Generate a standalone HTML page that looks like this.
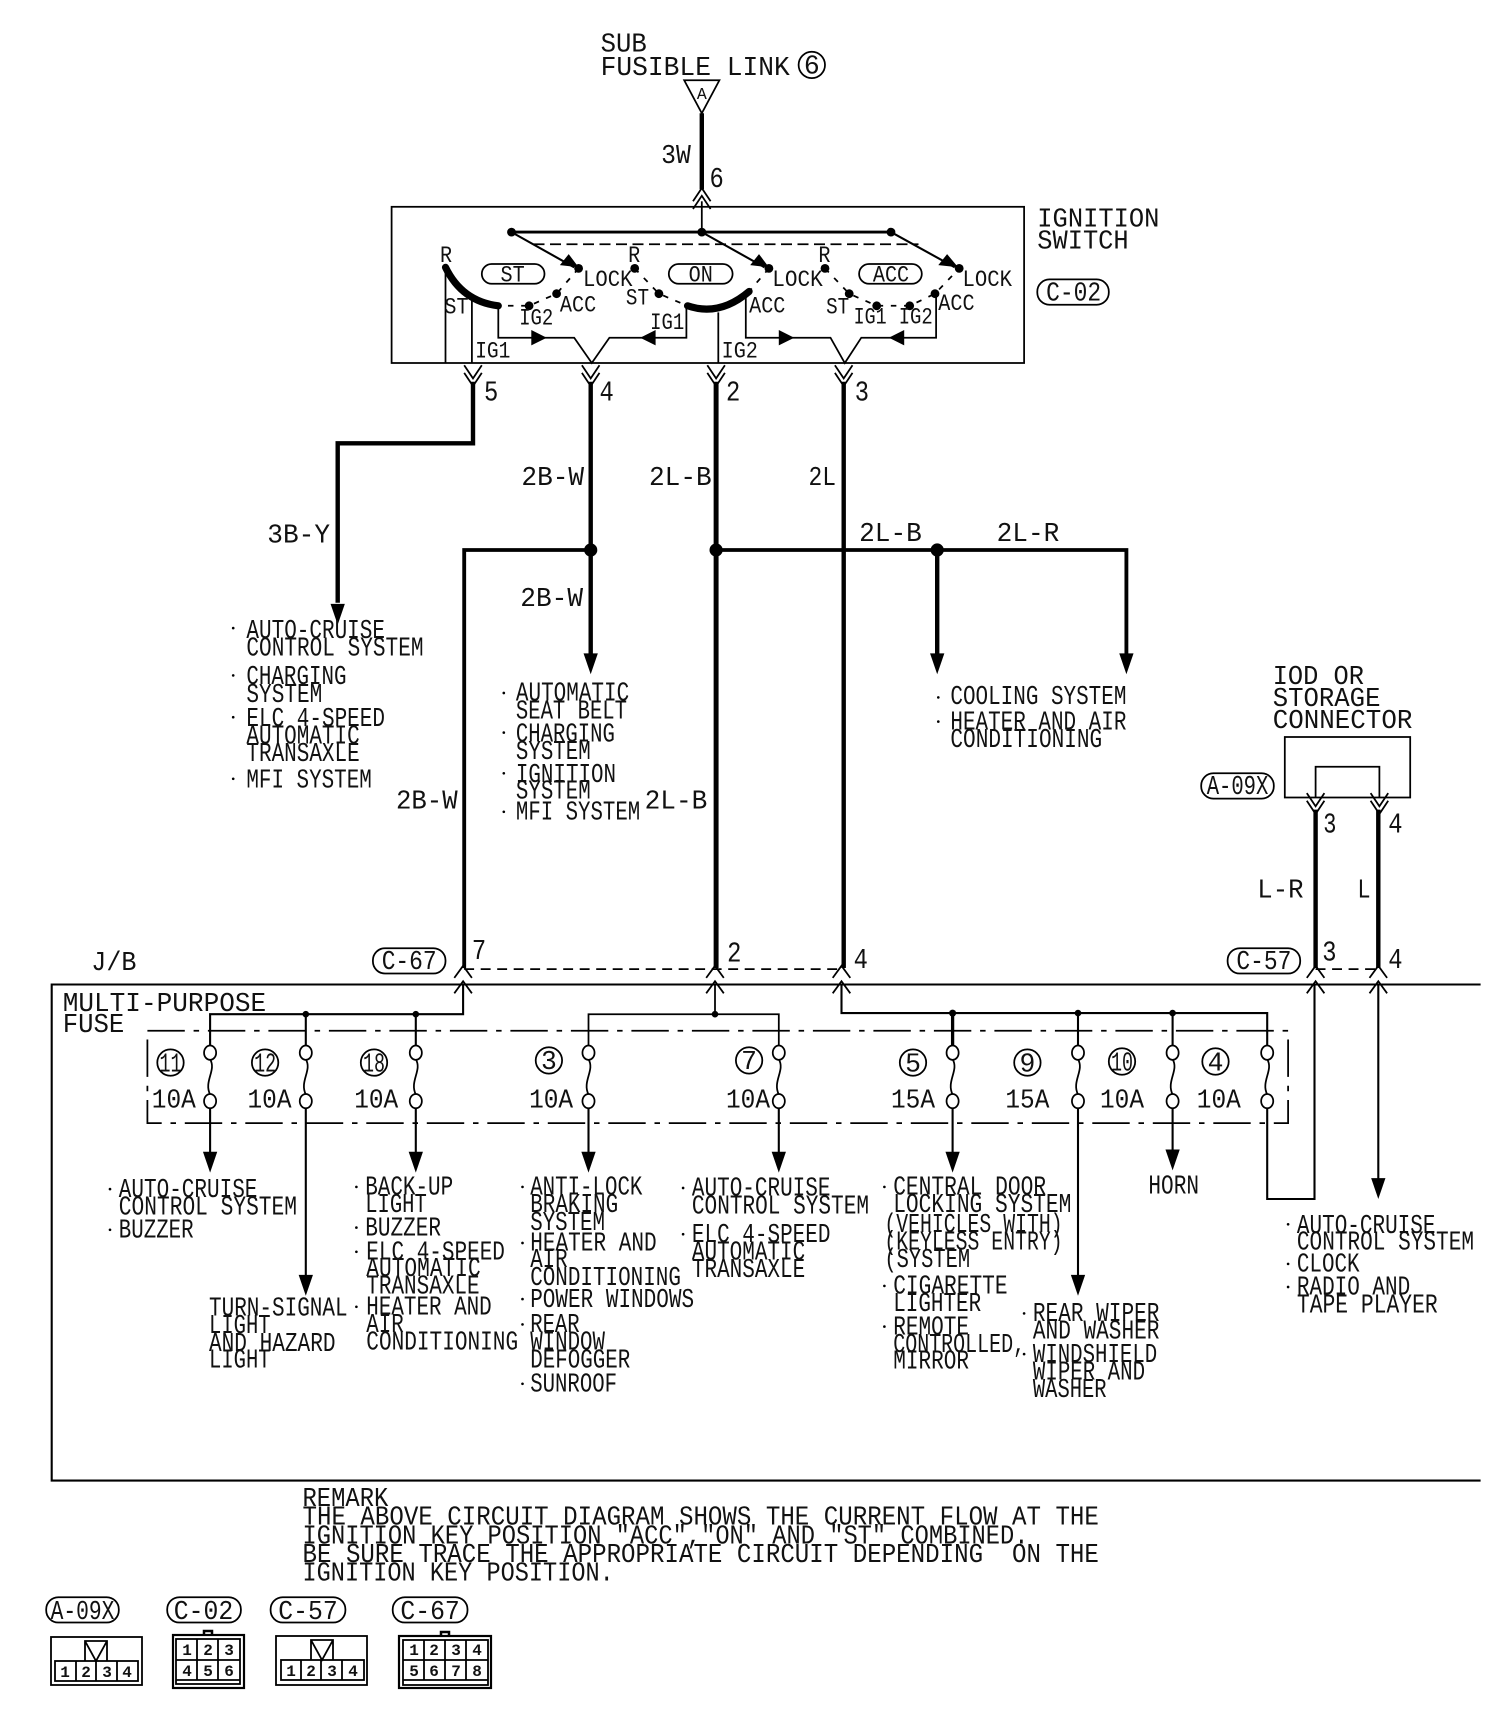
<!DOCTYPE html>
<html><head><meta charset="utf-8"><style>
html,body{margin:0;padding:0;background:#fff}
svg{display:block}
text{font-family:"Liberation Mono","DejaVu Sans Mono",monospace;font-size:24px;fill:#111}
.s{font-size:21px}
.n{font-size:26px}
.d{font-size:24px;text-anchor:middle}
.c{font-size:16px;font-weight:bold;text-anchor:middle}
.w{fill:none;stroke:#000;stroke-width:4}
.t{fill:none;stroke:#000;stroke-width:1.6}
.m{fill:none;stroke:#000;stroke-width:1.9}
</style></head><body>
<svg xmlns="http://www.w3.org/2000/svg" width="1504" height="1724" viewBox="0 0 1504 1724">
<defs>
<path id="u" d="M-8,8 L0,-3 L8,8" fill="none" stroke="#000" stroke-width="1.6"/>
<path id="dd" d="M-8,-6 L0,6 L8,-6 M-8,1 L0,13 L8,1" fill="none" stroke="#000" stroke-width="1.6"/>
<path id="uu" d="M-8,6 L0,-6 L8,6 M-8,13 L0,1 L8,13" fill="none" stroke="#000" stroke-width="1.6"/>
<path id="h" d="M-6.5,-19 L6.5,-19 L0,0 Z" fill="#000"/>
<g id="f"><ellipse cx="0" cy="0" rx="5.5" ry="6.5" fill="#fff" stroke="#000" stroke-width="1.6"/><ellipse cx="0" cy="44" rx="5.5" ry="6.5" fill="#fff" stroke="#000" stroke-width="1.6"/><path d="M0,6 C6,16 -6,26 0,38" fill="none" stroke="#000" stroke-width="1.6"/></g>
</defs>
<g transform="scale(1.1)">
<!-- top -->
<text x="546" y="47" lengthAdjust="spacingAndGlyphs" textLength="42">SUB</text>
<text x="546" y="68" lengthAdjust="spacingAndGlyphs" textLength="172">FUSIBLE LINK</text>
<circle cx="738" cy="59" r="12" class="t"/><text x="738" y="67" class="d">6</text>
<path d="M622,73 H654 L638,103 Z" class="t"/><text x="638" y="90" style="font-size:15px" text-anchor="middle">A</text>
<path d="M638,103 V172" class="w"/>
<text x="601" y="148" lengthAdjust="spacingAndGlyphs" textLength="27">3W</text>
<text x="645" y="170" class="n" lengthAdjust="spacingAndGlyphs" textLength="13">6</text>
<use href="#uu" x="638" y="177"/>
<!-- ignition switch -->
<rect x="356" y="188" width="575" height="142" class="t"/>
<text x="943" y="206" lengthAdjust="spacingAndGlyphs" textLength="111">IGNITION</text>
<text x="943" y="226" lengthAdjust="spacingAndGlyphs" textLength="83">SWITCH</text>
<rect x="943" y="254" width="65" height="23" rx="11" class="t"/><text x="976" y="273" lengthAdjust="spacingAndGlyphs" textLength="50" text-anchor="middle">C-02</text>
<path d="M638,183 V211" class="t"/>
<path d="M465,211 H810" class="m" style="stroke-width:2.6"/>
<circle cx="465" cy="211" r="4"/><circle cx="638" cy="211" r="4"/><circle cx="810" cy="211" r="4"/>
<path d="M485,222 H835" class="t" stroke-dasharray="10 5"/>
<path d="M465,211 L522,243 M638,211 L695,243 M810,211 L868,243" class="m"/>
<path d="M517,231 L509,241 L526,243 Z M690,231 L682,241 L699,243 Z M861,231 L853,241 L871,243 Z"/>
<circle cx="526" cy="244" r="4"/><circle cx="506" cy="267" r="4"/><circle cx="481" cy="278" r="4"/>
<circle cx="577" cy="244" r="4"/><circle cx="599" cy="267" r="4"/>
<circle cx="699" cy="244" r="4"/>
<circle cx="750" cy="244" r="4"/><circle cx="772" cy="267" r="4"/><circle cx="797" cy="278" r="4"/><circle cx="827" cy="278" r="4"/><circle cx="850" cy="267" r="4"/><circle cx="872" cy="244" r="4"/>
<path d="M526,244 L506,267 L481,278 L454,278 M577,244 L599,267 L625,278 M699,244 L681,265 M750,244 L772,267 L797,278 L827,278 L850,267 L872,244" class="t" stroke-dasharray="5 7"/>
<path d="M405,243 Q420,274 453,278" fill="none" stroke="#000" stroke-width="6.5" stroke-linecap="round"/>
<path d="M625,278 Q654,288 681,265" fill="none" stroke="#000" stroke-width="6.5" stroke-linecap="round"/>
<path d="M405,243 V330 M429,270 V330 M653,284 V330" class="t"/>
<path d="M453,278 V307 H522 L538,330 L554,307 H624 V280" class="t"/>
<path d="M678,268 V307 H755 L768,330 L783,307 H851 V268" class="t"/>
<path d="M483,300 L497,307 L483,314 Z M596,300 L582,307 L596,314 Z M708,300 L722,307 L708,314 Z M822,300 L808,307 L822,314 Z"/>
<rect x="438" y="240" width="57" height="18" rx="9" class="t"/><text x="466" y="256" class="s" text-anchor="middle" lengthAdjust="spacingAndGlyphs" textLength="22">ST</text>
<rect x="608" y="240" width="58" height="18" rx="9" class="t"/><text x="637" y="256" class="s" text-anchor="middle" lengthAdjust="spacingAndGlyphs" textLength="22">ON</text>
<rect x="781" y="240" width="57" height="18" rx="9" class="t"/><text x="810" y="256" class="s" text-anchor="middle" lengthAdjust="spacingAndGlyphs" textLength="33">ACC</text>
<text x="400" y="238" class="s" lengthAdjust="spacingAndGlyphs" textLength="11">R</text>
<text x="571" y="238" class="s" lengthAdjust="spacingAndGlyphs" textLength="11">R</text>
<text x="744" y="238" class="s" lengthAdjust="spacingAndGlyphs" textLength="11">R</text>
<text x="530" y="260" class="s" lengthAdjust="spacingAndGlyphs" textLength="45">LOCK</text>
<text x="702" y="260" class="s" lengthAdjust="spacingAndGlyphs" textLength="46">LOCK</text>
<text x="875" y="260" class="s" lengthAdjust="spacingAndGlyphs" textLength="45">LOCK</text>
<text x="509" y="283" class="s" lengthAdjust="spacingAndGlyphs" textLength="33">ACC</text>
<text x="681" y="284" class="s" lengthAdjust="spacingAndGlyphs" textLength="33">ACC</text>
<text x="853" y="282" class="s" lengthAdjust="spacingAndGlyphs" textLength="33">ACC</text>
<text x="404" y="285" class="s" lengthAdjust="spacingAndGlyphs" textLength="22">ST</text>
<text x="569" y="277" class="s" lengthAdjust="spacingAndGlyphs" textLength="21">ST</text>
<text x="751" y="285" class="s" lengthAdjust="spacingAndGlyphs" textLength="21">ST</text>
<text x="472" y="295" class="s" lengthAdjust="spacingAndGlyphs" textLength="31">IG2</text>
<text x="591" y="299" class="s" lengthAdjust="spacingAndGlyphs" textLength="31">IG1</text>
<text x="776" y="294" class="s" lengthAdjust="spacingAndGlyphs" textLength="30">IG1</text>
<text x="817" y="294" class="s" lengthAdjust="spacingAndGlyphs" textLength="31">IG2</text>
<text x="432" y="325" class="s" lengthAdjust="spacingAndGlyphs" textLength="32">IG1</text>
<text x="656" y="325" class="s" lengthAdjust="spacingAndGlyphs" textLength="33">IG2</text>
<!-- pins -->
<use href="#dd" x="430" y="338"/><use href="#dd" x="537" y="338"/><use href="#dd" x="651" y="338"/><use href="#dd" x="767" y="338"/>
<text x="440" y="364" class="n" lengthAdjust="spacingAndGlyphs" textLength="13">5</text>
<text x="545" y="364" class="n" lengthAdjust="spacingAndGlyphs" textLength="13">4</text>
<text x="660" y="364" class="n" lengthAdjust="spacingAndGlyphs" textLength="13">2</text>
<text x="777" y="364" class="n" lengthAdjust="spacingAndGlyphs" textLength="13">3</text>
<!-- main wires -->
<path d="M430,347 V403 H307 V548" class="w"/><use href="#h" x="307" y="568"/>
<path d="M537,347 V595" class="w"/><use href="#h" x="537" y="613"/>
<path d="M651,347 V880" class="w" style="stroke-width:4.5"/>
<path d="M767,347 V880" class="w"/>
<path d="M422,880 V500 H537" class="w" style="stroke-width:3.5"/>
<path d="M651,500 H1024 V595" class="w" style="stroke-width:3.5"/><use href="#h" x="1024" y="613"/>
<path d="M852,500 V595" class="w"/><use href="#h" x="852" y="613"/>
<circle cx="537" cy="500" r="6"/><circle cx="651" cy="500" r="6"/><circle cx="852" cy="500" r="6"/>
<text x="243" y="493" lengthAdjust="spacingAndGlyphs" textLength="57">3B-Y</text>
<text x="474" y="441" lengthAdjust="spacingAndGlyphs" textLength="57">2B-W</text>
<text x="473" y="551" lengthAdjust="spacingAndGlyphs" textLength="57">2B-W</text>
<text x="360" y="735" lengthAdjust="spacingAndGlyphs" textLength="56">2B-W</text>
<text x="590" y="441" lengthAdjust="spacingAndGlyphs" textLength="57">2L-B</text>
<text x="586" y="735" lengthAdjust="spacingAndGlyphs" textLength="57">2L-B</text>
<text x="735" y="441" lengthAdjust="spacingAndGlyphs" textLength="25">2L</text>
<text x="781" y="492" lengthAdjust="spacingAndGlyphs" textLength="57">2L-B</text>
<text x="906" y="492" lengthAdjust="spacingAndGlyphs" textLength="57">2L-R</text>
<!-- upper lists -->
<circle cx="212" cy="571" r="1.2"/><circle cx="212" cy="614" r="1.2"/><circle cx="212" cy="652" r="1.2"/><circle cx="212" cy="708" r="1.2"/>
<text x="224" y="580" lengthAdjust="spacingAndGlyphs" textLength="126">AUTO-CRUISE</text>
<text x="224" y="596" lengthAdjust="spacingAndGlyphs" textLength="161">CONTROL SYSTEM</text>
<text x="224" y="622" lengthAdjust="spacingAndGlyphs" textLength="91">CHARGING</text>
<text x="224" y="638" lengthAdjust="spacingAndGlyphs" textLength="69">SYSTEM</text>
<text x="224" y="660" lengthAdjust="spacingAndGlyphs" textLength="126">ELC 4-SPEED</text>
<text x="224" y="676" lengthAdjust="spacingAndGlyphs" textLength="103">AUTOMATIC</text>
<text x="224" y="692" lengthAdjust="spacingAndGlyphs" textLength="103">TRANSAXLE</text>
<text x="224" y="716" lengthAdjust="spacingAndGlyphs" textLength="114">MFI SYSTEM</text>
<circle cx="458" cy="630" r="1.2"/><circle cx="458" cy="666" r="1.2"/><circle cx="458" cy="703" r="1.2"/><circle cx="458" cy="738" r="1.2"/>
<text x="469" y="637" lengthAdjust="spacingAndGlyphs" textLength="103">AUTOMATIC</text>
<text x="469" y="653" lengthAdjust="spacingAndGlyphs" textLength="101">SEAT BELT</text>
<text x="469" y="674" lengthAdjust="spacingAndGlyphs" textLength="90">CHARGING</text>
<text x="469" y="690" lengthAdjust="spacingAndGlyphs" textLength="68">SYSTEM</text>
<text x="469" y="711" lengthAdjust="spacingAndGlyphs" textLength="91">IGNITION</text>
<text x="469" y="726" lengthAdjust="spacingAndGlyphs" textLength="68">SYSTEM</text>
<text x="469" y="745" lengthAdjust="spacingAndGlyphs" textLength="113">MFI SYSTEM</text>
<circle cx="853" cy="634" r="1.2"/><circle cx="853" cy="656" r="1.2"/>
<text x="864" y="640" lengthAdjust="spacingAndGlyphs" textLength="160">COOLING SYSTEM</text>
<text x="864" y="663" lengthAdjust="spacingAndGlyphs" textLength="160">HEATER AND AIR</text>
<text x="864" y="679" lengthAdjust="spacingAndGlyphs" textLength="138">CONDITIONING</text>
<!-- IOD -->
<text x="1157" y="622" lengthAdjust="spacingAndGlyphs" textLength="83">IOD OR</text>
<text x="1157" y="642" lengthAdjust="spacingAndGlyphs" textLength="98">STORAGE</text>
<text x="1157" y="662" lengthAdjust="spacingAndGlyphs" textLength="127">CONNECTOR</text>
<rect x="1168" y="670" width="114" height="55" class="t"/>
<path d="M1196,725 V697 H1254 V725" class="t"/>
<rect x="1092" y="703" width="66" height="23" rx="11" class="t"/><text x="1125" y="722" text-anchor="middle" lengthAdjust="spacingAndGlyphs" textLength="56">A-09X</text>
<use href="#dd" x="1196" y="727"/><use href="#dd" x="1254" y="727"/>
<path d="M1196,736 V880 M1253,736 V880" class="w"/>
<text x="1203" y="757" class="n" lengthAdjust="spacingAndGlyphs" textLength="12">3</text>
<text x="1262" y="757" class="n" lengthAdjust="spacingAndGlyphs" textLength="13">4</text>
<text x="1143" y="816" lengthAdjust="spacingAndGlyphs" textLength="42">L-R</text>
<text x="1234" y="816" lengthAdjust="spacingAndGlyphs" textLength="12">L</text>
<!-- J/B -->
<text x="83" y="882" lengthAdjust="spacingAndGlyphs" textLength="41">J/B</text>
<rect x="339" y="862" width="66" height="23" rx="11" class="t"/><text x="372" y="881" text-anchor="middle" lengthAdjust="spacingAndGlyphs" textLength="50">C-67</text>
<rect x="1116" y="862" width="66" height="23" rx="11" class="t"/><text x="1149" y="881" text-anchor="middle" lengthAdjust="spacingAndGlyphs" textLength="50">C-57</text>
<text x="429" y="872" class="n" lengthAdjust="spacingAndGlyphs" textLength="13">7</text>
<text x="661" y="874" class="n" lengthAdjust="spacingAndGlyphs" textLength="13">2</text>
<text x="776" y="880" class="n" lengthAdjust="spacingAndGlyphs" textLength="13">4</text>
<text x="1202" y="873" class="n" lengthAdjust="spacingAndGlyphs" textLength="13">3</text>
<text x="1262" y="880" class="n" lengthAdjust="spacingAndGlyphs" textLength="13">4</text>
<path d="M422,881 H765 M1196,881 H1253" class="t" stroke-dasharray="9 6"/>
<path d="M1346,895 H47 V1346 H1346" class="m"/>
<g><use href="#u" x="421" y="881"/><use href="#u" x="421" y="895"/><use href="#u" x="650" y="881"/><use href="#u" x="650" y="895"/><use href="#u" x="765" y="881"/><use href="#u" x="765" y="895"/><use href="#u" x="1196" y="881"/><use href="#u" x="1196" y="895"/><use href="#u" x="1253" y="881"/><use href="#u" x="1253" y="895"/></g>
<text x="57" y="919" lengthAdjust="spacingAndGlyphs" textLength="185">MULTI-PURPOSE</text>
<text x="57" y="938" lengthAdjust="spacingAndGlyphs" textLength="56">FUSE</text>
<rect x="134" y="937" width="1037" height="84" class="t" stroke-dasharray="34 8 5 8"/>
<!-- buses -->
<path d="M421,895 V922 H191 V951 M278,922 V951 M378,922 V951" class="m"/>
<circle cx="278" cy="922" r="3"/><circle cx="378" cy="922" r="3"/>
<path d="M650,895 V922 M535,951 V922 H708 V951" class="t"/><circle cx="650" cy="922" r="3"/>
<path d="M765,895 V921 H1152 V951 M980,921 V951 M1066,921 V951" class="m"/>
<path d="M866,921 V951" class="w" style="stroke-width:3"/>
<circle cx="866" cy="921" r="3.2"/><circle cx="980" cy="921" r="3"/><circle cx="1066" cy="921" r="3"/>
<use href="#f" x="191" y="957"/><use href="#f" x="278" y="957"/><use href="#f" x="378" y="957"/><use href="#f" x="535" y="957"/><use href="#f" x="708" y="957"/><use href="#f" x="866" y="957"/><use href="#f" x="980" y="957"/><use href="#f" x="1066" y="957"/><use href="#f" x="1152" y="957"/>
<circle cx="155" cy="966" r="12" class="t"/><circle cx="241" cy="966" r="12" class="t"/><circle cx="340" cy="966" r="12" class="t"/><circle cx="499" cy="964" r="12" class="t"/><circle cx="681" cy="964" r="12" class="t"/><circle cx="830" cy="966" r="12" class="t"/><circle cx="934" cy="966" r="12" class="t"/><circle cx="1020" cy="965" r="12" class="t"/><circle cx="1105" cy="965" r="12" class="t"/>
<text x="155" y="974" class="d" lengthAdjust="spacingAndGlyphs" textLength="20">11</text>
<text x="241" y="974" class="d" lengthAdjust="spacingAndGlyphs" textLength="20">12</text>
<text x="340" y="974" class="d" lengthAdjust="spacingAndGlyphs" textLength="20">18</text>
<text x="499" y="972" class="d">3</text>
<text x="681" y="972" class="d">7</text>
<text x="830" y="974" class="d">5</text>
<text x="934" y="974" class="d">9</text>
<text x="1020" y="973" class="d" lengthAdjust="spacingAndGlyphs" textLength="20">10</text>
<text x="1105" y="973" class="d">4</text>
<text x="138" y="1007" lengthAdjust="spacingAndGlyphs" textLength="40">10A</text>
<text x="225" y="1007" lengthAdjust="spacingAndGlyphs" textLength="40">10A</text>
<text x="322" y="1007" lengthAdjust="spacingAndGlyphs" textLength="40">10A</text>
<text x="481" y="1007" lengthAdjust="spacingAndGlyphs" textLength="40">10A</text>
<text x="660" y="1007" lengthAdjust="spacingAndGlyphs" textLength="40">10A</text>
<text x="810" y="1007" lengthAdjust="spacingAndGlyphs" textLength="40">15A</text>
<text x="914" y="1007" lengthAdjust="spacingAndGlyphs" textLength="40">15A</text>
<text x="1000" y="1007" lengthAdjust="spacingAndGlyphs" textLength="40">10A</text>
<text x="1088" y="1007" lengthAdjust="spacingAndGlyphs" textLength="40">10A</text>
<!-- drops -->
<path d="M191,1007 V1050 M278,1007 V1160 M378,1007 V1050 M535,1007 V1050 M708,1007 V1050 M866,1007 V1050 M980,1007 V1160 M1066,1007 V1050 M1152,1007 V1090 H1195 V895 M1253,895 V1075" class="m"/>
<use href="#h" x="191" y="1066"/><use href="#h" x="278" y="1178"/><use href="#h" x="378" y="1066"/><use href="#h" x="535" y="1066"/><use href="#h" x="708" y="1066"/><use href="#h" x="866" y="1066"/><use href="#h" x="980" y="1178"/><use href="#h" x="1066" y="1064"/><use href="#h" x="1253" y="1090"/>
<!-- lower lists -->
<circle cx="100" cy="1081" r="1.2"/><circle cx="100" cy="1118" r="1.2"/>
<text x="108" y="1088" lengthAdjust="spacingAndGlyphs" textLength="126">AUTO-CRUISE</text>
<text x="108" y="1104" lengthAdjust="spacingAndGlyphs" textLength="162">CONTROL SYSTEM</text>
<text x="108" y="1125" lengthAdjust="spacingAndGlyphs" textLength="68">BUZZER</text>
<text x="190" y="1196" lengthAdjust="spacingAndGlyphs" textLength="126">TURN-SIGNAL</text>
<text x="190" y="1212" lengthAdjust="spacingAndGlyphs" textLength="56">LIGHT</text>
<text x="190" y="1228" lengthAdjust="spacingAndGlyphs" textLength="115">AND HAZARD</text>
<text x="190" y="1243" lengthAdjust="spacingAndGlyphs" textLength="56">LIGHT</text>
<circle cx="324" cy="1079" r="1.2"/><circle cx="324" cy="1116" r="1.2"/><circle cx="324" cy="1138" r="1.2"/><circle cx="324" cy="1188" r="1.2"/>
<text x="332" y="1086" lengthAdjust="spacingAndGlyphs" textLength="80">BACK-UP</text>
<text x="332" y="1102" lengthAdjust="spacingAndGlyphs" textLength="56">LIGHT</text>
<text x="332" y="1123" lengthAdjust="spacingAndGlyphs" textLength="69">BUZZER</text>
<text x="333" y="1145" lengthAdjust="spacingAndGlyphs" textLength="126">ELC 4-SPEED</text>
<text x="333" y="1160" lengthAdjust="spacingAndGlyphs" textLength="104">AUTOMATIC</text>
<text x="333" y="1176" lengthAdjust="spacingAndGlyphs" textLength="103">TRANSAXLE</text>
<text x="333" y="1195" lengthAdjust="spacingAndGlyphs" textLength="114">HEATER AND</text>
<text x="333" y="1211" lengthAdjust="spacingAndGlyphs" textLength="34">AIR</text>
<text x="333" y="1227" lengthAdjust="spacingAndGlyphs" textLength="138">CONDITIONING</text>
<circle cx="475" cy="1079" r="1.2"/><circle cx="475" cy="1130" r="1.2"/><circle cx="475" cy="1181" r="1.2"/><circle cx="475" cy="1204" r="1.2"/><circle cx="475" cy="1258" r="1.2"/>
<text x="482" y="1086" lengthAdjust="spacingAndGlyphs" textLength="102">ANTI-LOCK</text>
<text x="482" y="1102" lengthAdjust="spacingAndGlyphs" textLength="80">BRAKING</text>
<text x="482" y="1118" lengthAdjust="spacingAndGlyphs" textLength="68">SYSTEM</text>
<text x="482" y="1137" lengthAdjust="spacingAndGlyphs" textLength="115">HEATER AND</text>
<text x="482" y="1152" lengthAdjust="spacingAndGlyphs" textLength="34">AIR</text>
<text x="482" y="1168" lengthAdjust="spacingAndGlyphs" textLength="137">CONDITIONING</text>
<text x="482" y="1188" lengthAdjust="spacingAndGlyphs" textLength="149">POWER WINDOWS</text>
<text x="482" y="1211" lengthAdjust="spacingAndGlyphs" textLength="45">REAR</text>
<text x="482" y="1227" lengthAdjust="spacingAndGlyphs" textLength="68">WINDOW</text>
<text x="482" y="1243" lengthAdjust="spacingAndGlyphs" textLength="91">DEFOGGER</text>
<text x="482" y="1265" lengthAdjust="spacingAndGlyphs" textLength="79">SUNROOF</text>
<circle cx="621" cy="1080" r="1.2"/><circle cx="621" cy="1122" r="1.2"/>
<text x="629" y="1087" lengthAdjust="spacingAndGlyphs" textLength="126">AUTO-CRUISE</text>
<text x="629" y="1103" lengthAdjust="spacingAndGlyphs" textLength="161">CONTROL SYSTEM</text>
<text x="629" y="1129" lengthAdjust="spacingAndGlyphs" textLength="126">ELC 4-SPEED</text>
<text x="629" y="1145" lengthAdjust="spacingAndGlyphs" textLength="103">AUTOMATIC</text>
<text x="629" y="1161" lengthAdjust="spacingAndGlyphs" textLength="103">TRANSAXLE</text>
<circle cx="804" cy="1079" r="1.2"/><circle cx="804" cy="1169" r="1.2"/><circle cx="804" cy="1206" r="1.2"/>
<text x="812" y="1086" lengthAdjust="spacingAndGlyphs" textLength="139">CENTRAL DOOR</text>
<text x="812" y="1102" lengthAdjust="spacingAndGlyphs" textLength="162">LOCKING SYSTEM</text>
<text x="804" y="1120" lengthAdjust="spacingAndGlyphs" textLength="162">(VEHICLES WITH)</text>
<text x="804" y="1136" lengthAdjust="spacingAndGlyphs" textLength="162">(KEYLESS ENTRY)</text>
<text x="804" y="1152" lengthAdjust="spacingAndGlyphs" textLength="78">(SYSTEM</text>
<text x="812" y="1176" lengthAdjust="spacingAndGlyphs" textLength="104">CIGARETTE</text>
<text x="812" y="1192" lengthAdjust="spacingAndGlyphs" textLength="80">LIGHTER</text>
<text x="812" y="1213" lengthAdjust="spacingAndGlyphs" textLength="69">REMOTE</text>
<text x="812" y="1229" lengthAdjust="spacingAndGlyphs" textLength="120">CONTROLLED,</text>
<text x="812" y="1244" lengthAdjust="spacingAndGlyphs" textLength="69">MIRROR</text>
<circle cx="931" cy="1194" r="1.2"/><circle cx="931" cy="1231" r="1.2"/>
<text x="939" y="1201" lengthAdjust="spacingAndGlyphs" textLength="115">REAR WIPER</text>
<text x="939" y="1217" lengthAdjust="spacingAndGlyphs" textLength="115">AND WASHER</text>
<text x="939" y="1238" lengthAdjust="spacingAndGlyphs" textLength="113">WINDSHIELD</text>
<text x="939" y="1254" lengthAdjust="spacingAndGlyphs" textLength="102">WIPER AND</text>
<text x="939" y="1270" lengthAdjust="spacingAndGlyphs" textLength="67">WASHER</text>
<text x="1044" y="1085" lengthAdjust="spacingAndGlyphs" textLength="46">HORN</text>
<circle cx="1171" cy="1113" r="1.2"/><circle cx="1171" cy="1149" r="1.2"/><circle cx="1171" cy="1170" r="1.2"/>
<text x="1179" y="1121" lengthAdjust="spacingAndGlyphs" textLength="126">AUTO-CRUISE</text>
<text x="1179" y="1136" lengthAdjust="spacingAndGlyphs" textLength="161">CONTROL SYSTEM</text>
<text x="1179" y="1156" lengthAdjust="spacingAndGlyphs" textLength="57">CLOCK</text>
<text x="1179" y="1177" lengthAdjust="spacingAndGlyphs" textLength="103">RADIO AND</text>
<text x="1179" y="1193" lengthAdjust="spacingAndGlyphs" textLength="128">TAPE PLAYER</text>
<!-- remark -->
<text x="275" y="1369" lengthAdjust="spacingAndGlyphs" textLength="78">REMARK</text>
<text x="275" y="1386" lengthAdjust="spacingAndGlyphs" textLength="724" xml:space="preserve">THE ABOVE CIRCUIT DIAGRAM SHOWS THE CURRENT FLOW AT THE</text>
<text x="275" y="1403" lengthAdjust="spacingAndGlyphs" textLength="660">IGNITION KEY POSITION "ACC","ON" AND "ST" COMBINED.</text>
<text x="275" y="1420" lengthAdjust="spacingAndGlyphs" textLength="724" xml:space="preserve">BE SURE TRACE THE APPROPRIATE CIRCUIT DEPENDING  ON THE</text>
<text x="275" y="1437" lengthAdjust="spacingAndGlyphs" textLength="283">IGNITION KEY POSITION.</text>
<!-- legend pills -->
<rect x="42" y="1452" width="66" height="23" rx="11" class="t"/><text x="75" y="1472" text-anchor="middle" lengthAdjust="spacingAndGlyphs" textLength="58">A-09X</text>
<rect x="152" y="1452" width="67" height="23" rx="11" class="t"/><text x="185" y="1472" text-anchor="middle" lengthAdjust="spacingAndGlyphs" textLength="54">C-02</text>
<rect x="246" y="1452" width="68" height="23" rx="11" class="t"/><text x="280" y="1472" text-anchor="middle" lengthAdjust="spacingAndGlyphs" textLength="54">C-57</text>
<rect x="357" y="1452" width="68" height="23" rx="11" class="t"/><text x="391" y="1472" text-anchor="middle" lengthAdjust="spacingAndGlyphs" textLength="54">C-67</text>
</g>
<!-- legend connectors (original pixel coords) -->
<g fill="none" stroke="#000" stroke-width="1.8">
<rect x="51" y="1637" width="91" height="48"/>
<path d="M85,1661 V1641 H107 V1661 M85,1641 L96,1661 L107,1641"/>
<rect x="55" y="1661" width="83" height="20"/><path d="M76,1661 V1681 M96,1661 V1681 M117,1661 V1681"/>
<rect x="173" y="1635" width="71" height="53" stroke-width="2.2"/><rect x="176" y="1639" width="64" height="45"/>
<path d="M176,1660 H240 M176,1680 H240 M197,1639 V1680 M218,1639 V1680"/><path d="M204,1634 V1631 H212 V1634" stroke-width="2.5"/>
<rect x="276" y="1636" width="91" height="49"/>
<path d="M311,1660 V1640 H333 V1660 M311,1640 L322,1660 L333,1640"/>
<rect x="281" y="1660" width="83" height="20"/><path d="M301,1660 V1680 M321,1660 V1680 M342,1660 V1680"/>
<rect x="399" y="1636" width="92" height="52" stroke-width="2.2"/><rect x="403" y="1640" width="85" height="45"/>
<path d="M403,1660 H488 M403,1680 H488 M424,1640 V1680 M445,1640 V1680 M466,1640 V1680"/><path d="M441,1635 V1632 H449 V1635" stroke-width="2.5"/>
</g>
<g>
<text class="c" x="65" y="1677">1</text><text class="c" x="86" y="1677">2</text><text class="c" x="107" y="1677">3</text><text class="c" x="127" y="1677">4</text>
<text class="c" x="187" y="1655">1</text><text class="c" x="208" y="1655">2</text><text class="c" x="229" y="1655">3</text>
<text class="c" x="187" y="1676">4</text><text class="c" x="208" y="1676">5</text><text class="c" x="229" y="1676">6</text>
<text class="c" x="291" y="1676">1</text><text class="c" x="311" y="1676">2</text><text class="c" x="332" y="1676">3</text><text class="c" x="353" y="1676">4</text>
<text class="c" x="414" y="1655">1</text><text class="c" x="434" y="1655">2</text><text class="c" x="456" y="1655">3</text><text class="c" x="477" y="1655">4</text>
<text class="c" x="414" y="1676">5</text><text class="c" x="434" y="1676">6</text><text class="c" x="456" y="1676">7</text><text class="c" x="477" y="1676">8</text>
</g>
</svg>
</body></html>
